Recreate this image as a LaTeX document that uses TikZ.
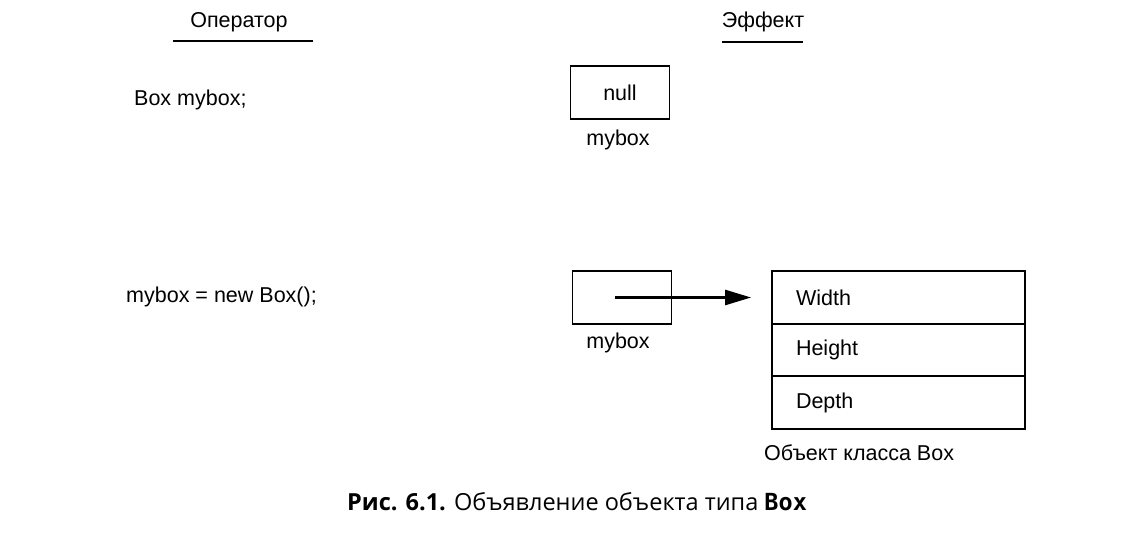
\documentclass[tikz,border=0pt]{standalone}
\usepackage{fontspec}
\setmainfont{Liberation Sans}
\newfontfamily\capfont{Open Sans}
\newfontfamily\capmono{DejaVu Sans Mono}
\usepackage{tikz}
\usetikzlibrary{arrows.meta, positioning}

\tikzset{
    txt/.style={font=\fontsize{21.5}{25}\selectfont, inner sep=0pt},
    var/.style={draw, line width=1.8pt, minimum width=99pt, minimum height=53pt, font=\fontsize{21.5}{25}\selectfont},
    cell/.style={draw, line width=1.8pt, text width=205pt, inner xsep=24pt, minimum height=52.5pt, align=left, font=\fontsize{21.5}{25}\selectfont}
}

\begin{document}
\begin{tikzpicture}[x=1pt, y=1pt]
                    \useasboundingbox (0,0) rectangle (1129,-553);

                    % headings
                    \node[txt] (hop) at (239,-22) {Оператор};
                    \node[txt] (hef) at (763,-22) {Эффект};
                    \draw[line width=2pt] (173,-41) -- (313,-41);
                    \draw[line width=2pt] (722,-42) -- (803,-42);

                    % Box mybox;
                    \node[txt, anchor=west] (st1) at (134,-100) {Box mybox;};
                    \node[var] (nul) at (620,-92.5) {null};
                    \node[txt] (lb1) at (618,-140) {mybox};

                    % mybox = new Box();
                    \node[txt, anchor=west] (st2) at (126,-297) {mybox = new Box();};
                    \node[var] (ref) at (622,-297.5) {};
                    \node[txt] (lb2) at (618,-343) {mybox};

                    \node[cell] (wid) at (898.5,-297.5) {Width};
                    \node[cell, below=-1.8pt of wid] (hei) {Height};
                    \node[cell, below=-1.8pt of hei] (dep) {Depth};
                    \node[txt, anchor=west] (obj) at (764,-453) {Объект класса Box};

                    \draw[line width=2.5pt, -{Triangle[length=26pt, width=15pt]}] (ref.center) ++(-7,0) coordinate (p) (p) -- ([xshift=-20pt]wid.west);

                    % caption
                    \node[inner sep=0pt] (cap) at (577,-502) {\capfont\fontsize{23.5}{26}\selectfont\textbf{Рис. 6.1.} Объявление объекта типа \capmono\bfseries Box};
                \end{tikzpicture}
\end{document}
